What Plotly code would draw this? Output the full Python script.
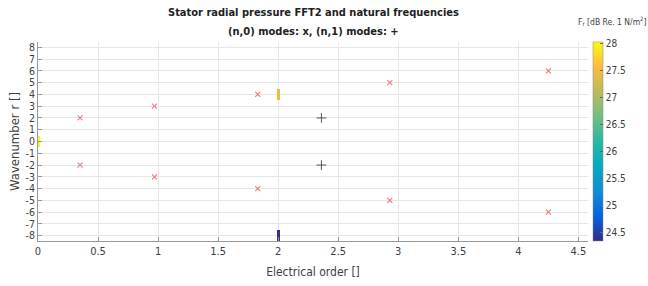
import plotly.graph_objects as go

# ---- data ----
n0_order = [0.35, 0.35, 0.97, 0.97, 1.83, 1.83, 2.93, 2.93, 4.25, 4.25]
n0_wave = [2, -2, 3, -3, 4, -4, 5, -5, 6, -6]
n1_order = [2.36, 2.36]
n1_wave = [2, -2]
fft_order = [0.0, 2.0, 2.0]
fft_wave = [0, 4, -8]
fft_level = [28.0, 27.45, 24.4]
cell_h = 1.0
cmin, cmax = 24.35, 28.03

xticks = [0, 0.5, 1, 1.5, 2, 2.5, 3, 3.5, 4, 4.5]
yticks = list(range(-8, 9))
cb_ticks = [24.5, 25, 25.5, 26, 26.5, 27, 27.5, 28]

title_lines = ["Stator radial pressure FFT2 and natural frequencies",
               "(n,0) modes: x, (n,1) modes: +"]

parula = [
    [0.0, "rgb(53,42,135)"], [0.125, "rgb(3,99,225)"], [0.25, "rgb(16,142,210)"],
    [0.375, "rgb(4,169,194)"], [0.5, "rgb(39,185,163)"], [0.625, "rgb(113,191,128)"],
    [0.75, "rgb(190,186,90)"], [0.875, "rgb(253,187,64)"], [1.0, "rgb(249,251,14)"],
]

FONT = "DejaVu Sans Condensed, Liberation Sans Narrow, Liberation Sans, Arial, sans-serif"
TXT = "#404040"

L, R, T, B = 38, 60, 42, 45
PW = 648 - L - R
PH = 286 - T - B


def py(ypx):
    return (286 - B - ypx) / PH


def px(xpx):
    return (xpx - L) / PW


fig = go.Figure()
fig.add_trace(go.Bar(
    x=fft_order, y=[cell_h] * len(fft_order),
    base=[w - cell_h / 2 for w in fft_wave],
    width=0.025,
    marker=dict(color=fft_level, colorscale=parula, cmin=cmin, cmax=cmax,
                line=dict(width=0),
                colorbar=dict(
                    xref="container", x=593 / 648, xanchor="left",
                    yref="paper", y=0, yanchor="bottom", len=1, lenmode="fraction",
                    thickness=10, thicknessmode="pixels",
                    outlinewidth=0.5, outlinecolor="#888",
                    tickvals=cb_ticks, ticktext=[str(t) for t in cb_ticks],
                    ticks="inside", ticklen=3, tickcolor="#666",
                    tickfont=dict(family=FONT, size=10, color=TXT),
                    ypad=0, xpad=0,
                )),
    showlegend=False, hoverinfo="skip",
))
fig.add_trace(go.Scatter(
    x=n0_order, y=n0_wave, mode="markers",
    marker=dict(symbol="x-thin", size=5, line=dict(color="rgb(240,120,120)", width=1.1)),
    showlegend=False,
))
fig.add_trace(go.Scatter(
    x=n1_order, y=n1_wave, mode="markers",
    marker=dict(symbol="cross-thin", size=7, line=dict(color="rgb(70,70,70)", width=0.9)),
    showlegend=False,
))

annotations = [
    dict(text="<b>%s</b>" % title_lines[0], x=px(313), y=py(12)),
    dict(text="<b>%s</b>" % title_lines[1], x=px(313), y=py(31)),
]
for a in annotations:
    a.update(xref="paper", yref="paper", xanchor="center", yanchor="middle",
             showarrow=False, font=dict(family=FONT, size=11, color="#222"))
annotations.append(dict(
    text="F<sub>r</sub> [dB Re. 1 N/m<sup>2</sup>]",
    xref="paper", yref="paper", x=px(612), y=py(21),
    xanchor="center", yanchor="middle", showarrow=False,
    font=dict(family=FONT, size=8.5, color=TXT),
))

fig.update_layout(
    width=648, height=286,
    margin=dict(l=L, r=R, t=T, b=B, autoexpand=False),
    paper_bgcolor="white", plot_bgcolor="white",
    font=dict(family=FONT, color=TXT),
    bargap=0,
    xaxis=dict(
        range=[0, 4.58], tickvals=xticks, ticktext=[str(t) for t in xticks],
        showgrid=True, gridcolor="#e6e6e6", gridwidth=1, zeroline=False,
        showline=True, linecolor="#999", linewidth=1, mirror=False,
        ticks="inside", ticklen=4, tickcolor="#999", automargin=False,
        tickfont=dict(family=FONT, size=11, color=TXT),
        title=dict(text="Electrical order []", font=dict(family=FONT, size=12, color=TXT), standoff=10),
    ),
    yaxis=dict(
        range=[-8.45, 8.45], tickvals=yticks, ticktext=[str(t) for t in yticks],
        showgrid=True, gridcolor="#e6e6e6", gridwidth=1, zeroline=False,
        showline=True, linecolor="#999", linewidth=1, mirror=False,
        ticks="inside", ticklen=4, tickcolor="#999", automargin=False,
        tickfont=dict(family=FONT, size=10.5, color=TXT),
        title=dict(text="Wavenumber r []", font=dict(family=FONT, size=13, color=TXT), standoff=2),
    ),
    annotations=annotations,
)

fig.write_html("out.html", config={"displayModeBar": False},
               post_script="document.body.style.margin='0';")
